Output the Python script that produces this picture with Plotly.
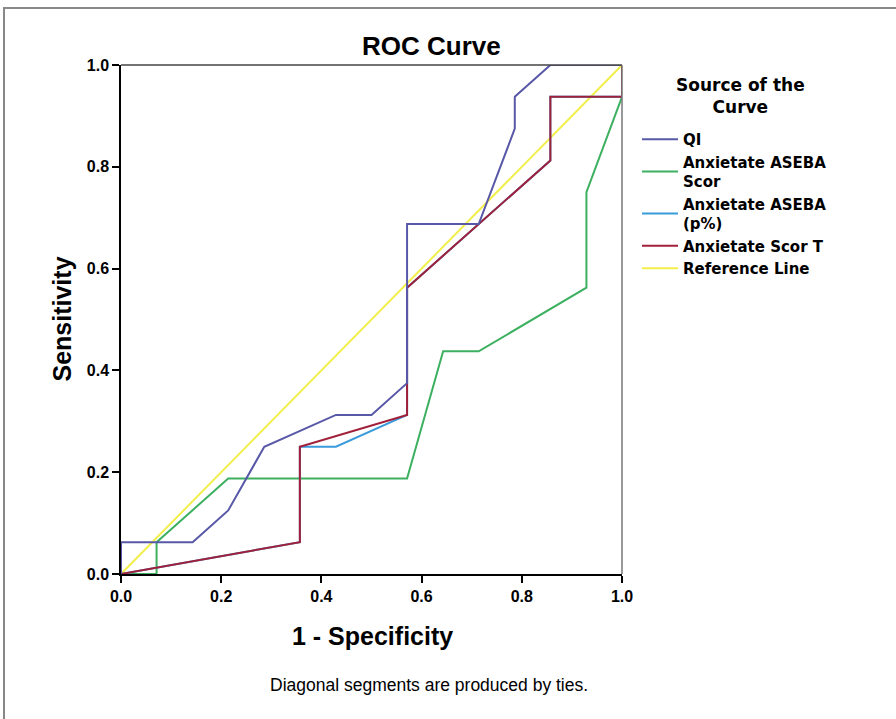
import plotly.graph_objects as go

# ---- data ----
fpr_qi = [0, 0, 0.143, 0.214, 0.286, 0.429, 0.5, 0.571, 0.571, 0.714, 0.786, 0.786, 0.857, 1.0]
tpr_qi = [0, 0.0625, 0.0625, 0.125, 0.25, 0.3125, 0.3125, 0.375, 0.6875, 0.6875, 0.875, 0.9375, 1.0, 1.0]

fpr_scor = [0, 0.071, 0.071, 0.214, 0.571, 0.643, 0.714, 0.929, 0.929, 1.0, 1.0]
tpr_scor = [0, 0, 0.0625, 0.1875, 0.1875, 0.4375, 0.4375, 0.5625, 0.75, 0.9375, 1.0]

fpr_pct = [0, 0.357, 0.357, 0.429, 0.571, 0.571, 0.857, 0.857, 1.0, 1.0]
tpr_pct = [0, 0.0625, 0.25, 0.25, 0.3125, 0.5625, 0.8125, 0.9375, 0.9375, 1.0]

fpr_t = [0, 0.357, 0.357, 0.571, 0.571, 0.857, 0.857, 1.0, 1.0]
tpr_t = [0, 0.0625, 0.25, 0.3125, 0.5625, 0.8125, 0.9375, 0.9375, 1.0]

fpr_ref = [0, 1]
tpr_ref = [0, 1]

names = ["QI", "Anxietate ASEBA<br>Scor", "Anxietate ASEBA<br>(p%)", "Anxietate Scor T", "Reference Line"]
colors = ["#5858A8", "#3DB060", "#3A9BDC", "#A0203A", "#F2EE4A"]
tick_vals = [0, 0.2, 0.4, 0.6, 0.8, 1.0]
tick_text = ["0.0", "0.2", "0.4", "0.6", "0.8", "1.0"]

FONT = "Liberation Sans, Arial, sans-serif"
LFONT = "DejaVu Sans, Verdana, sans-serif"

# plot area in pixels
L, R, T, B = 121, 622, 65, 574
W, H = 896, 719
def xp(px):
    return (px - L) / (R - L)
def yp(py):
    return (B - py) / (B - T)

fig = go.Figure()
series = [
    (fpr_ref, tpr_ref, 4),
    (fpr_scor, tpr_scor, 1),
    (fpr_pct, tpr_pct, 2),
    (fpr_t, tpr_t, 3),
    (fpr_qi, tpr_qi, 0),
]
for xs, ys, i in series:
    fig.add_trace(go.Scatter(
        x=xs, y=ys, mode="lines", name=names[i],
        line=dict(color=colors[i], width=2),
        legendrank=i + 1, hoverinfo="skip",
    ))

axis_common = dict(
    range=[0, 1], tickvals=tick_vals, ticktext=tick_text,
    ticks="outside", ticklen=7, tickwidth=1.5, tickcolor="#000",
    showline=True, linecolor="#000", linewidth=1.5,
    showgrid=False, zeroline=False,
    tickfont=dict(family=FONT, size=16, color="#000", weight="bold"),
    fixedrange=True,
)
fig.update_xaxes(**axis_common)
fig.update_yaxes(**axis_common)

shapes = [
    # top and right frame of plot area
    dict(type="line", xref="paper", yref="paper", x0=0, x1=1, y0=1, y1=1,
         line=dict(color="#444", width=1.5)),
    dict(type="line", xref="paper", yref="paper", x0=1, x1=1, y0=0, y1=1,
         line=dict(color="#777", width=1.5)),
    # outer frame (top and left visible)
    dict(type="rect", xref="paper", yref="paper",
         x0=xp(4), x1=xp(940), y0=yp(760), y1=yp(8),
         line=dict(color="#888", width=2), fillcolor="rgba(0,0,0,0)"),
]

annotations = [
    dict(text="<b>ROC Curve</b>", x=xp(431), y=yp(46), xref="paper", yref="paper",
         showarrow=False, xanchor="center", yanchor="middle",
         font=dict(family=FONT, size=26, color="#000")),
    dict(text="<b>1 - Specificity</b>", x=xp(372), y=yp(636), xref="paper", yref="paper",
         showarrow=False, xanchor="center", yanchor="middle",
         font=dict(family=FONT, size=25, color="#000")),
    dict(text="<b>Sensitivity</b>", x=xp(61), y=0.5, xref="paper", yref="paper",
         showarrow=False, xanchor="center", yanchor="middle", textangle=-90,
         font=dict(family=FONT, size=25, color="#000")),
    dict(text="Diagonal segments are produced by ties.", x=xp(429), y=yp(685),
         xref="paper", yref="paper", showarrow=False, xanchor="center", yanchor="middle",
         font=dict(family=FONT, size=17.5, color="#000")),
    # legend title (centered lines)
    dict(text="<b>Source of the<br>Curve</b>", x=xp(740), y=yp(96), xref="paper", yref="paper",
         showarrow=False, xanchor="center", yanchor="middle", align="center",
         font=dict(family=LFONT, size=17, color="#000")),
]

fig.update_layout(
    width=W, height=H,
    margin=dict(l=L, r=W - R, t=T, b=H - B, pad=0),
    paper_bgcolor="#fff", plot_bgcolor="#fff",
    showlegend=True,
    legend=dict(
        x=xp(637), y=yp(123), xanchor="left", yanchor="top",
        bgcolor="rgba(0,0,0,0)", borderwidth=0,
        font=dict(family=LFONT, size=15, color="#000", weight="bold"),
        itemwidth=36, tracegroupgap=0,
    ),
    shapes=shapes, annotations=annotations,
)

fig.write_html("out.html", config={"displayModeBar": False},
               post_script="document.body.style.margin='0';")
